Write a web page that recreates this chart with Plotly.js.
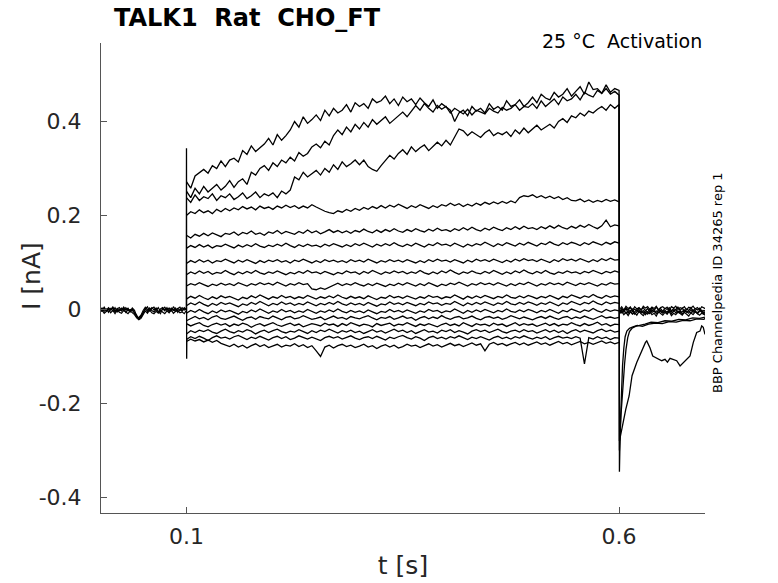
<!DOCTYPE html>
<html>
<head>
<meta charset="utf-8">
<script src="https://cdn.plot.ly/plotly-3.0.1.min.js"></script>
<style>html,body{margin:0;padding:0;background:#fff;}#chart{width:778px;height:583px;}</style>
</head>
<body>
<div id="chart"></div>
<script>
// ---------------- DATA (time in ms, current in pA; converted to s / nA below) ----------------
const tStepMs = [
100,105,110,115,120,125,130,135,140,145,
150,155,160,165,170,175,180,185,190,195,
200,205,210,215,220,225,230,235,240,245,
250,255,260,265,270,275,280,285,290,295,
300,305,310,315,320,325,330,335,340,345,
350,355,360,365,370,375,380,385,390,395,
400,405,410,415,420,425,430,435,440,445,
450,455,460,465,470,475,480,485,490,495,
500,505,510,515,520,525,530,535,540,545,
550,555,560,565,570,575,580,585,590,595,
600];

const tPreMs = [
0,2.5,5,7.5,10,12.5,15,17.5,20,22.5,
25,27.5,30,32.5,35,37.5,40,42.5,45,47.5,
50,52.5,55,57.5,60,62.5,65,67.5,70,72.5,
75,77.5,80,82.5,85,87.5,90,92.5,95,97.5,
100];

const tTailMs = [
600.5,603,605.5,608,610.5,613,615.5,618,620.5,623,
625.5,628,630.5,633,635.5,638,640.5,643,645.5,648,
650.5,653,655.5,658,660.5,663,665.5,668,670.5,673,
675.5,678,680.5,683,685.5,688,690.5,693,695.5,698,
700.5];

// step currents (pA)
const I_A = [
272,258,284,292,298,290,306,300,316,304,
318,322,314,338,330,348,336,344,352,364,
350,372,360,370,382,400,388,410,396,404,
414,402,424,412,428,418,424,436,420,440,
432,438,428,448,440,444,454,438,448,434,
452,442,448,436,450,440,432,446,428,438,
430,424,400,418,424,412,432,422,428,418,
438,426,432,424,444,432,436,446,432,440,
452,440,458,450,446,462,452,458,470,454,
464,474,458,484,468,470,460,478,462,470,
466];
const I_B = [
252,238,258,246,262,250,258,266,254,262,
274,260,272,278,266,292,286,300,306,296,
312,304,318,312,324,316,334,326,332,346,
352,344,358,350,370,382,372,388,378,394,
384,398,388,404,394,402,410,396,404,414,
420,410,422,434,424,438,428,420,434,426,
432,418,428,422,416,426,414,424,420,416,
428,422,418,430,424,428,436,424,432,430,
438,428,444,432,440,448,436,452,444,448,
458,446,462,456,452,466,460,470,458,464,
456];
const I_C = [
238,228,244,232,240,236,246,232,242,238,
246,234,240,248,236,242,250,238,246,242,
248,238,252,246,254,282,276,292,282,290,
296,286,300,292,308,298,314,304,310,318,
308,318,304,298,294,306,316,328,320,332,
340,330,346,336,344,350,338,346,356,348,
360,350,366,384,380,370,378,372,366,376,
382,370,376,372,378,368,382,374,386,376,
384,392,382,388,394,386,400,406,398,412,
408,418,412,422,418,426,432,424,436,428,
436];
const I_D = [
200,208,204,212,206,210,204,213,208,215,
210,216,212,219,214,218,212,220,215,218,
213,220,216,222,217,221,215,220,216,223,
218,213,209,206,204,210,207,213,209,215,
211,217,213,219,215,221,216,222,218,224,
219,215,221,217,223,219,215,221,217,223,
220,226,221,225,219,224,220,226,222,228,
224,229,225,230,226,231,227,238,242,240,
244,238,242,237,241,236,240,234,238,232,
231,235,229,233,228,232,229,234,230,233,
229];
const I_E = [
158,152,160,156,162,157,163,159,155,162,
160,165,158,164,161,167,160,163,158,165,
162,168,161,166,163,160,166,162,169,163,
167,161,165,170,164,168,163,167,162,168,
165,171,166,163,169,164,170,166,172,167,
164,170,166,172,168,165,171,167,173,168,
170,166,172,168,174,169,175,170,167,173,
169,175,171,168,174,170,176,171,177,172,
174,170,176,172,178,173,179,174,171,177,
173,179,175,181,176,172,178,190,176,180,
178];
const I_F = [
130,136,132,138,133,137,131,136,134,139,
135,131,137,133,138,134,140,135,132,137,
134,139,135,141,136,132,138,134,139,135,
137,133,139,135,140,136,133,138,134,140,
136,141,137,133,139,135,140,136,142,137,
134,139,135,141,137,133,139,136,142,137,
139,135,141,137,133,139,135,140,137,143,
138,134,140,136,142,138,135,141,137,143,
139,135,141,138,144,139,136,142,138,143,
140,136,142,138,144,140,137,143,139,144,
141];
const I_G = [
98,104,100,106,101,105,99,104,102,107,
103,99,105,101,106,102,98,104,100,105,
102,106,101,104,99,105,102,107,103,99,
104,100,106,102,105,101,104,100,106,102,
105,101,107,103,99,104,101,106,102,105,
101,106,102,99,104,100,106,102,107,103,
105,101,106,103,99,105,101,107,103,106,
102,107,103,100,105,101,107,103,108,104,
106,102,107,104,100,106,102,108,104,107,
103,108,104,101,106,102,108,104,109,105,
106];
const I_H = [
74,80,76,82,77,81,75,79,77,83,
78,74,80,76,81,77,83,78,75,80,
77,82,78,74,79,76,81,77,83,78,
80,76,81,77,74,79,76,82,78,80,
75,81,77,83,79,75,80,77,82,78,
81,76,80,77,83,78,75,80,76,82,
78,84,79,75,80,77,82,78,76,81,
77,83,79,75,80,76,82,78,84,79,
76,81,77,83,78,75,80,77,82,78,
80,76,81,78,83,79,76,81,78,82,
79];
const I_I = [
50,55,52,57,53,49,54,51,56,52,
55,51,57,53,50,55,52,57,53,56,
52,58,54,50,55,52,57,53,55,44,
42,46,43,47,52,56,51,55,52,57,
53,50,55,51,56,53,49,54,51,56,
52,57,53,50,55,51,57,53,49,54,
51,56,53,58,54,50,55,52,57,53,
56,52,57,54,50,55,51,56,53,58,
54,50,55,52,57,53,56,52,58,54,
51,56,53,57,54,50,55,52,57,54,
55];
const I_J = [
22,28,24,30,25,21,27,23,29,25,
28,24,20,26,23,29,25,31,26,22,
27,24,30,25,28,23,27,24,30,26,
22,27,24,29,25,31,26,23,28,24,
27,23,29,25,21,26,24,30,25,28,
24,29,26,22,27,24,30,26,28,23,
27,25,31,26,22,28,24,29,25,30,
26,23,28,25,31,26,24,29,25,30,
27,23,28,25,30,26,22,28,25,31,
27,24,29,26,32,27,24,30,26,29,
27];
const I_K = [
8,14,10,16,11,7,13,9,15,11,
14,10,6,12,9,15,11,17,12,8,
13,10,16,11,14,9,13,10,16,12,
8,13,10,15,11,17,12,9,14,10,
13,9,15,11,7,12,10,16,11,14,
10,15,12,8,13,10,16,12,14,9,
13,11,17,12,8,14,10,15,11,16,
12,9,14,11,17,12,10,15,11,16,
13,9,14,11,16,12,8,14,11,17,
13,10,15,12,18,13,10,16,12,15,
13];
const I_L = [
-8,-2,-6,0,-5,-9,-3,-7,-1,-5,
-2,-6,-10,-4,-7,-1,-5,1,-4,-8,
-3,-6,0,-5,-2,-7,-3,-6,0,-4,
-8,-3,-6,-1,-5,1,-4,-7,-2,-6,
-3,-7,-1,-5,-9,-4,-6,0,-5,-2,
-6,-1,-4,-8,-3,-6,0,-4,-2,-7,
-3,-5,1,-4,-8,-2,-6,-1,-5,0,
-4,-7,-2,-5,1,-4,-6,-1,-5,0,
-3,-7,-2,-5,0,-4,-8,-2,-5,1,
-3,-6,-1,-4,2,-3,-6,0,-4,-1,
-3];
const I_M = [
-24,-19,-15,-20,-17,-22,-16,-13,-19,-21,
-17,-14,-19,-23,-18,-16,-21,-15,-18,-20,
-14,-18,-22,-17,-15,-20,-18,-13,-17,-21,
-19,-16,-22,-18,-14,-19,-17,-21,-15,-18,
-20,-16,-13,-18,-22,-17,-19,-15,-21,-18,
-14,-19,-17,-23,-18,-15,-20,-16,-19,-13,
-18,-21,-17,-15,-20,-18,-14,-19,-22,-17,
-15,-19,-16,-21,-18,-13,-17,-20,-16,-19,
-22,-18,-15,-19,-14,-18,-21,-17,-15,-20,
-16,-19,-14,-18,-21,-17,-13,-18,-16,-19,
-17];
const I_N = [
-30,-35,-31,-28,-34,-37,-32,-29,-33,-30,
-36,-31,-34,-29,-32,-38,-33,-30,-35,-31,
-28,-33,-36,-32,-29,-34,-31,-37,-33,-30,
-32,-35,-29,-33,-31,-36,-30,-34,-28,-32,
-35,-31,-33,-37,-30,-34,-32,-29,-35,-31,
-33,-28,-32,-36,-31,-34,-30,-33,-37,-32,
-29,-34,-31,-35,-28,-32,-36,-30,-33,-31,
-35,-29,-33,-31,-36,-32,-28,-34,-30,-33,
-31,-36,-32,-29,-34,-30,-35,-31,-33,-28,
-32,-35,-30,-34,-31,-27,-33,-30,-35,-31,
-32];
const I_O = [
-52,-45,-49,-44,-47,-43,-48,-51,-46,-42,
-47,-50,-45,-48,-43,-46,-52,-47,-44,-49,
-45,-42,-47,-50,-46,-48,-43,-47,-51,-45,
-49,-44,-47,-42,-46,-50,-45,-48,-44,-49,
-46,-51,-47,-43,-48,-45,-50,-46,-42,-47,
-44,-49,-45,-51,-47,-43,-48,-46,-50,-44,
-47,-43,-49,-45,-48,-52,-46,-43,-47,-44,
-49,-45,-42,-47,-50,-46,-44,-48,-43,-47,
-45,-50,-46,-43,-48,-44,-49,-45,-51,-46,
-43,-48,-44,-47,-50,-45,-42,-47,-44,-48,
-46];
const I_P = [
-64,-58,-62,-57,-61,-66,-60,-56,-61,-59,
-63,-58,-55,-60,-64,-59,-62,-57,-61,-65,
-60,-57,-62,-58,-64,-61,-56,-60,-63,-59,
-62,-66,-60,-57,-61,-58,-63,-59,-56,-61,
-64,-60,-58,-62,-57,-61,-65,-59,-62,-58,
-55,-60,-63,-58,-61,-66,-60,-57,-62,-59,
-63,-58,-61,-56,-60,-64,-59,-62,-58,-61,
-65,-60,-57,-62,-59,-63,-58,-61,-56,-60,
-63,-59,-62,-58,-64,-60,-57,-61,-59,-62,
-58,-61,-116,-60,-63,-58,-62,-59,-64,-60,
-61];
const I_Q = [
-68,-63,-67,-64,-69,-65,-70,-66,-72,-75,
-79,-74,-80,-76,-82,-77,-73,-79,-75,-81,
-77,-74,-80,-76,-78,-73,-79,-75,-81,-77,
-88,-100,-80,-76,-82,-77,-74,-79,-76,-81,
-78,-74,-80,-77,-83,-78,-75,-80,-76,-82,
-79,-74,-78,-76,-81,-77,-73,-78,-75,-80,
-76,-72,-77,-74,-79,-75,-71,-76,-73,-88,
-74,-70,-75,-72,-77,-73,-70,-75,-71,-76,
-73,-69,-74,-71,-76,-72,-68,-73,-70,-75,
-71,-68,-73,-70,-74,-71,-67,-72,-69,-73,
-70];

// holding baseline before the step (pA)
const pre1 = [
-2,3,-4,1,-6,2,-3,4,-5,0,
-3,2,-6,1,-4,3,-2,-14,-20,-16,
-8,2,-4,3,-2,-5,1,-3,-9,2,
-3,4,-5,1,-2,3,-6,0,-3,2,
0];
const pre2 = [
-6,-1,-8,-3,0,-7,-2,-9,-1,-6,
-8,-2,-5,-9,-3,-7,-11,-18,-22,-19,
-12,-3,-8,-1,-7,-9,-4,-8,-2,-6,
-9,-3,-7,-1,-8,-4,-2,-7,-5,-9,
-2];
const pre3 = [
1,-4,2,-2,4,-1,3,-5,2,-3,
3,-1,4,-3,0,-2,-8,-16,-17,-12,
-2,5,0,-2,4,-1,3,-6,1,4,
-1,2,-3,3,0,-4,2,-2,4,-1,
1];
const pre4 = [
3,-2,5,-3,2,-1,6,-4,1,4,
-2,5,-1,3,-5,1,-6,-12,-21,-14,
-5,1,6,-3,2,5,-2,4,-4,1,
5,-2,3,-4,6,-1,2,5,-3,4,
0];

// baseline after the step (pA)
const tail1 = [
-5,2,-3,4,-2,5,-4,1,-3,3,
-1,4,-3,2,-5,3,-2,5,-1,2,
-4,3,0,4,-3,2,-1,5,-2,3,
-4,1,-2,4,-3,2,-1,3,-5,-2,
-4];
const tail2 = [
-9,-4,-11,-6,-13,-5,-10,-7,-12,-4,
-9,-13,-6,-10,-4,-11,-8,-14,-5,-9,
-12,-6,-10,-4,-13,-8,-11,-5,-9,-12,
-6,-10,-14,-7,-11,-5,-9,-12,-8,-10,
-13];
const tail3 = [
0,6,-1,7,2,5,-2,6,1,4,
-1,7,3,6,0,5,2,7,-1,4,
6,1,5,-2,6,3,7,0,4,2,
6,-1,5,3,7,1,4,-1,6,3,
1];
const tail4 = [
-3,-7,-1,-8,-4,-2,-9,-5,-1,-6,
-3,-8,-2,-6,-9,-1,-5,-3,-7,-2,
-6,-4,-9,-2,-5,-1,-7,-3,-8,-4,
-2,-6,-3,-8,-1,-5,-7,-2,-6,-9,
-5];
const tail5 = [
-7,-1,-6,2,-8,-3,1,-10,-4,0,
-7,-2,-11,-5,1,-6,-3,-9,0,-5,
-8,-2,-6,1,-9,-4,0,-7,-3,-10,
-1,-5,-8,0,-6,-2,-9,-4,-1,-7,
-3];

// tail currents of the three largest steps
const tailA_t = [600.4,601,601.8,602.8,604,605.5,607,609,612,616,621,627,634,642,650,658,666,674,682,690,698,700];
const tailA_I = [-345,-290,-230,-170,-120,-82,-58,-46,-40,-37,-34,-36,-31,-29,-30,-26,-27,-23,-24,-20,-21,-18];
const tailB_t = [600.4,601.2,602.2,603.4,604.8,606.4,608,610,612,615,619,624,630,637,645,653,661,669,677,685,693,700];
const tailB_I = [-300,-262,-225,-190,-150,-115,-85,-60,-47,-40,-36,-33,-31,-27,-28,-24,-25,-21,-22,-18,-19,-16];
const tailC_t = [600.4,603.9,607.8,611.6,615.0,620.4,624.2,626.1,628.0,630.5,632.0,635.8,638.9,641.6,645.4,649.3,653.1,655.9,658.9,662.4,666.6,670.5,674.2,678.2,682.0,685.8,689.7,693.5,695.5,697.3,699.3];
const tailC_I = [-280,-247,-212,-184,-141,-113,-97,-85,-78,-70,-67,-82,-99,-102,-106,-109,-106,-112,-104,-106,-109,-120,-113,-106,-99,-70,-49,-46,-35,-38,-53];

// capacitive transient at step onset
const onsetT = [99.9,100.1,100.3,100.5];
const onsetI = [0,343,-105,-60];

// tick labels
const xTickVals = [0.1,0.6];
const xTickText = ['0.1','0.6'];
const yTickVals = [-0.4,-0.2,0,0.2,0.4];
const yTickText = ['-0.4','-0.2','0','0.2','0.4'];

// ---------------- PLOT ----------------
const sec = v => v/1000;   // ms -> s
const nA = v => v/1000;    // pA -> nA
const traces = [];
function add(t, i, w){ traces.push({x:t.map(sec), y:i.map(nA), type:'scatter', mode:'lines', line:{color:'#000000', width:w}, hoverinfo:'skip', showlegend:false}); }

[pre1,pre2,pre3,pre4].forEach(p => add(tPreMs, p, 1.2));
[tail1,tail2,tail3,tail4,tail5].forEach(p => add(tTailMs, p, 1.2));
add(tStepMs.concat(tailA_t), I_A.concat(tailA_I), 1.3);
add(tStepMs.concat(tailB_t), I_B.concat(tailB_I), 1.3);
add(tStepMs.concat(tailC_t), I_C.concat(tailC_I), 1.3);
[I_D,I_E,I_F,I_G,I_H,I_I,I_J,I_K,I_L,I_M,I_N,I_O,I_P,I_Q].forEach(s => add(tStepMs, s, 1.3));
add(onsetT, onsetI, 1.3);

const FONT = 'DejaVu Sans, sans-serif';
const layout = {
  width:778, height:583,
  margin:{l:101, r:73, t:43, b:70, pad:0},
  paper_bgcolor:'#ffffff', plot_bgcolor:'#ffffff',
  font:{family:FONT, color:'#262626'},
  showlegend:false,
  title:{text:'TALK1\u00a0\u00a0Rat\u00a0\u00a0CHO_FT', font:{family:FONT, size:24, color:'#000000', weight:'bold'},
         xref:'paper', x:0.0215, xanchor:'left', yref:'container', y:1-18/583, yanchor:'middle'},
  xaxis:{range:[0.0013,0.6993], tickvals:xTickVals, ticktext:xTickText, ticks:'inside', ticklen:6, tickcolor:'#555',
         showline:true, linecolor:'#555', linewidth:1, showgrid:false, zeroline:false,
         tickfont:{family:FONT, size:22, color:'#262626'}, ticklabelstandoff:4,
         title:{text:'t [s]', font:{family:FONT, size:25, color:'#262626'}, standoff:8}},
  yaxis:{range:[-0.433,0.567], tickvals:yTickVals, ticktext:yTickText, ticks:'inside', ticklen:6, tickcolor:'#555',
         showline:true, linecolor:'#555', linewidth:1, showgrid:false, zeroline:false,
         tickfont:{family:FONT, size:22, color:'#262626'}, ticklabelstandoff:14},
  annotations:[
    {text:'I [nA]', xref:'paper', yref:'paper', x:(31-101)/604, xanchor:'center', y:(513-276)/470, yanchor:'middle',
     textangle:-90, showarrow:false, font:{family:FONT, size:25, color:'#262626'}},
    {text:'25 °C\u00a0\u00a0Activation', xref:'paper', yref:'paper', x:(704-101)/604, xanchor:'right', y:1+(43-41)/470, yanchor:'middle',
     showarrow:false, font:{family:FONT, size:19, color:'#000000'}},
    {text:'BBP Channelpedia ID 34265 rep 1', xref:'paper', yref:'paper', x:(717-101)/604, xanchor:'center', y:(513-283)/470, yanchor:'middle',
     textangle:-90, showarrow:false, font:{family:FONT, size:13, color:'#000000'}}
  ]
};
Plotly.newPlot('chart', traces, layout, {displayModeBar:false, staticPlot:true});
</script>
</body>
</html>
